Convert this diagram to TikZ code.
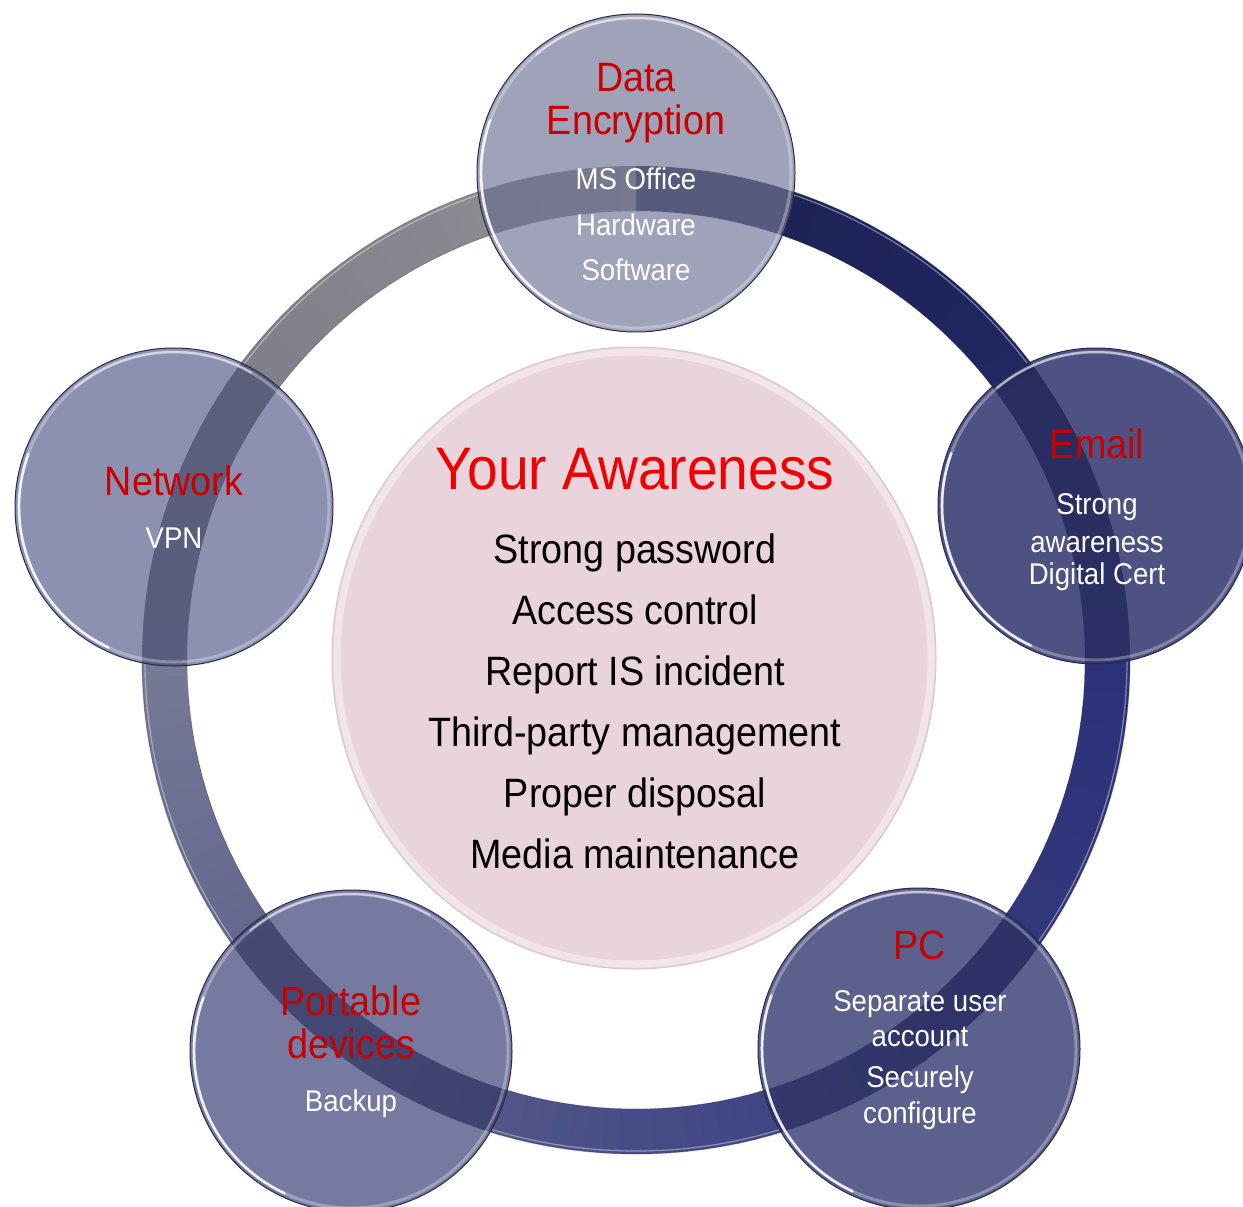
\documentclass[tikz,border=0pt]{standalone}
\usepackage{fontspec}
\setmainfont{Liberation Sans}[FakeStretch=0.92]
\usetikzlibrary{calc}

% ring colour stops, every 45 degrees counterclockwise from the top
\definecolor{ring0}{RGB}{145,146,150}
\definecolor{ring1}{RGB}{128,129,138}
\definecolor{ring2}{RGB}{118,122,150}
\definecolor{ring3}{RGB}{95,99,140}
\definecolor{ring4}{RGB}{72,76,134}
\definecolor{ring5}{RGB}{52,57,125}
\definecolor{ring6}{RGB}{44,50,120}
\definecolor{ring7}{RGB}{32,37,95}
\definecolor{ring8}{RGB}{28,32,80}
\definecolor{ringnavy}{RGB}{25,28,70}

\definecolor{labelred}{RGB}{200,0,0}
\definecolor{titlered}{RGB}{240,0,0}
\definecolor{pinkfill}{RGB}{232,212,218}
\definecolor{pinkrim}{RGB}{242,229,233}
\definecolor{pinkedge}{RGB}{222,196,205}
\definecolor{discedge}{RGB}{40,42,75}

\definecolor{discData}{RGB}{159,162,184}
\definecolor{discEmail}{RGB}{78,82,130}
\definecolor{discNet}{RGB}{140,145,178}
\definecolor{discPort}{RGB}{118,122,160}
\definecolor{discPC}{RGB}{92,96,140}

\def\Ro{494}
\def\Ri{449}

% colour of the ring at TikZ angle #1 (y axis points down), stored in segc
\newcommand\ringcolour[1]{%
  \pgfmathsetmacro\s{mod(630-(#1),360)}%
  \pgfmathtruncatemacro\k{floor(\s/45)}%
  \pgfmathtruncatemacro\kk{\k+1}%
  \pgfmathtruncatemacro\p{100-round((\s-45*\k)/45*100)}%
  \colorlet{segc}{ring\k!\p!ring\kk}%
}

% ring as thin annular pieces; #1 = share kept before darkening,
% #2 = share of the result over colour #3
\newcommand\ringsegments[3]{%
  \foreach \a in {0,2,...,358}{%
    \ringcolour{\a+1}%
    \colorlet{segd}{segc!#1!ringnavy}%
    \fill[segd!#2!#3] (\a:\Ro) arc[start angle=\a, end angle=\a+2.2, radius=\Ro]
      -- (\a+2.2:\Ri) arc[start angle=\a+2.2, end angle=\a, radius=\Ri] -- cycle;
  }%
}

% glassy disc: #1 centre, #2 radius, #3 fill, #4 strength of the ring seen through it
\newcommand\glassdisc[4]{%
  \fill[#3] (#1) circle[radius=#2];
  \begin{scope}
    \clip (#1) circle[radius=#2];
    \begin{scope}[shift={(ringc)}]
      \ringsegments{50}{#4}{#3}
    \end{scope}
  \end{scope}
  \draw[white, opacity=0.3, line width=3] (#1) circle[radius=#2-4];
  \draw[white, opacity=0.85, line width=2.5, line cap=round]
    ($(#1)+(200:{#2-4})$) arc[start angle=200, end angle=115, radius=#2-4];
  \draw[white, opacity=0.5, line width=2, line cap=round]
    ($(#1)+(-60:{#2-4})$) arc[start angle=-60, end angle=-130, radius=#2-4];
  \draw[discedge, line width=1] (#1) circle[radius=#2];
}

\tikzset{
  redlabel/.style={text=labelred, font=\fontsize{41}{46}\selectfont, anchor=base, inner sep=0pt},
  whitelabel/.style={text=white, font=\fontsize{30}{34}\selectfont, anchor=base, inner sep=0pt},
  itemlabel/.style={text=black, font=\fontsize{41}{46}\selectfont, anchor=base, inner sep=0pt},
  titlelabel/.style={text=titlered, font=\fontsize{60}{66}\selectfont, anchor=base, inner sep=0pt},
}

\begin{document}
\begin{tikzpicture}[x=1pt, y=-1pt]
\useasboundingbox (0,0) rectangle (1243,1207);
\clip (0,0) rectangle (1243,1207);

\coordinate (ringc) at (636,660);
\coordinate (pinkc) at (634,658);
\coordinate (cData) at (636,173);
\coordinate (cEmail) at (1096,506);
\coordinate (cNet) at (174,507);
\coordinate (cPort) at (351,1051);
\coordinate (cPC) at (919,1049);

% the big ring
\begin{scope}[shift={(ringc)}]
  \ringsegments{100}{100}{white}
\end{scope}
\draw[white, opacity=0.4, line width=1.2] (ringc) circle[radius=\Ro-3];
\draw[discedge, opacity=0.35, line width=0.8] (ringc) circle[radius=\Ro];
\draw[discedge, opacity=0.25, line width=0.8] (ringc) circle[radius=\Ri];

% central pink disc
\fill[pinkfill] (pinkc) ellipse[x radius=302, y radius=311];
\draw[pinkrim, line width=7] (pinkc) ellipse[x radius=297, y radius=306];
\draw[pinkedge, line width=1] (pinkc) ellipse[x radius=302, y radius=311];

% the five glass discs
\glassdisc{cData}{159}{discData}{55}
\glassdisc{cEmail}{158}{discEmail}{80}
\glassdisc{cNet}{159}{discNet}{75}
\glassdisc{cPort}{161}{discPort}{85}
\glassdisc{cPC}{161}{discPC}{85}

% centre texts
\node[titlelabel] (title) at (635,489) {Your Awareness};
\node[itemlabel] (i1) at (635,563) {Strong password};
\node[itemlabel] (i2) at (635,624) {Access control};
\node[itemlabel] (i3) at (635,685) {Report IS incident};
\node[itemlabel] (i4) at (635,746) {Third-party management};
\node[itemlabel] (i5) at (635,807) {Proper disposal};
\node[itemlabel] (i6) at (635,868) {Media maintenance};

% Data Encryption
\node[redlabel] (d1) at (636,92) {Data};
\node[redlabel] (d2) at (636,135) {Encryption};
\node[whitelabel] (d3) at (636,189) {MS Office};
\node[whitelabel] (d4) at (636,235) {Hardware};
\node[whitelabel] (d5) at (636,280) {Software};

% Email
\node[redlabel] (e1) at (1097,458) {Email};
\node[whitelabel] (e2) at (1097,514) {Strong};
\node[whitelabel] (e3) at (1097,552) {awareness};
\node[whitelabel] (e4) at (1097,584) {Digital Cert};

% Network
\node[redlabel] (n1) at (174,495) {Network};
\node[whitelabel] (n2) at (174,548) {VPN};

% Portable devices
\node[redlabel] (p1) at (351,1015) {Portable};
\node[redlabel] (p2) at (351,1058) {devices};
\node[whitelabel] (p3) at (351,1111) {Backup};

% PC
\node[redlabel] (c1) at (920,959) {PC};
\node[whitelabel] (c2) at (920,1011) {Separate user};
\node[whitelabel] (c3) at (920,1046) {account};
\node[whitelabel] (c4) at (920,1087) {Securely};
\node[whitelabel] (c5) at (920,1123) {configure};
\end{tikzpicture}
\end{document}
